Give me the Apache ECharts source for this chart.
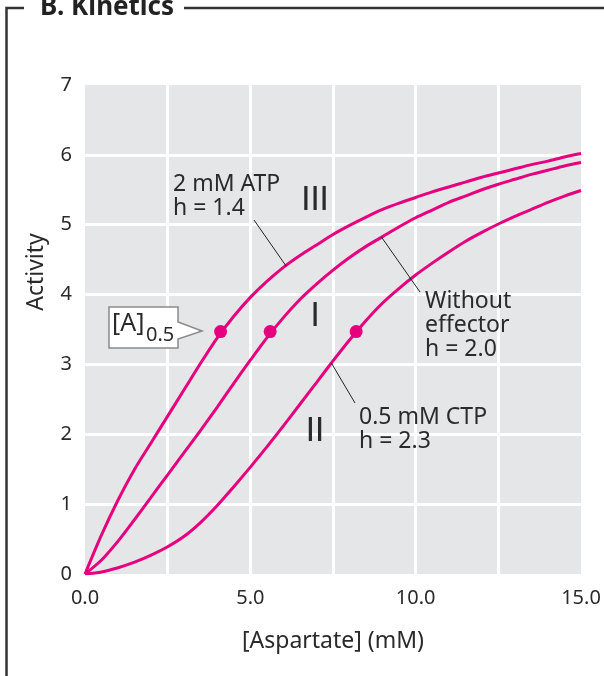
<!DOCTYPE html>
<html><head><meta charset="utf-8">
<script src="https://cdn.jsdelivr.net/npm/echarts@6/dist/echarts.min.js"></script>
<style>html,body{margin:0;padding:0;background:#fff}#c{width:604px;height:676px}</style>
</head><body><div id="c"></div>
<script>
// ---- data ----
const aspartate = [0,0.5,1,1.5,2,2.5,3,3.5,4,4.5,5,5.5,6,6.5,7,7.5,8,8.5,9,9.5,10,10.5,11,11.5,12,12.5,13,13.5,14,14.5,15];
const activityATP = [0,0.56,1.06,1.5,1.88,2.26,2.64,3.02,3.38,3.69,3.96,4.19,4.39,4.56,4.71,4.86,4.99,5.11,5.22,5.31,5.39,5.47,5.54,5.61,5.68,5.74,5.80,5.86,5.91,5.97,6.02];
const activityNone = [0,0.2,0.47,0.78,1.1,1.42,1.74,2.06,2.39,2.73,3.06,3.38,3.67,3.93,4.15,4.35,4.53,4.69,4.83,4.97,5.10,5.21,5.32,5.41,5.50,5.58,5.65,5.72,5.78,5.84,5.89];
const activityCTP = [0,0.03,0.09,0.17,0.27,0.39,0.54,0.74,0.98,1.25,1.53,1.82,2.12,2.43,2.74,3.05,3.35,3.63,3.88,4.09,4.28,4.45,4.61,4.76,4.89,5.01,5.12,5.22,5.32,5.41,5.49];
const halfSatX = [4.1, 5.6, 8.2];
const halfSatY = [3.47, 3.47, 3.47];
const curveNames = ['III', 'I', 'II'];
const curveNotes = ['2 mM ATP\nh = 1.4', 'Without\neffector\nh = 2.0', '0.5 mM CTP\nh = 2.3'];
const noteAnchorX = [6.08, 8.97, 7.45];
const noteAnchorY = [4.41, 4.82, 3.02];
const xTickLabels = ['0.0', '5.0', '10.0', '15.0'];
const xTitle = '[Aspartate] (mM)';
const yTitle = 'Activity';
const chartTitle = 'B. Kinetics';

// ---- chart ----
const MAG = '#e6007e';
const FONT = '"Noto Sans", sans-serif';
const TXT = '#2a2a2a';
const chart = echarts.init(document.getElementById('c'), null, {renderer: 'canvas'});
const pairs = ys => aspartate.map((x, i) => [x, ys[i]]);
const lineSeries = ys => ({type: 'line', data: pairs(ys), smooth: 0.3, showSymbol: false, lineStyle: {color: MAG, width: 3}, z: 3});

chart.setOption({
  animation: false,
  backgroundColor: '#fff',
  grid: {left: 85, right: 23, top: 85, bottom: 102, show: true, backgroundColor: '#e5e6e8', borderWidth: 0},
  xAxis: {
    type: 'value', min: 0, max: 15, interval: 2.5,
    axisLine: {show: false}, axisTick: {show: false},
    axisLabel: {
      color: TXT, fontSize: 20, fontFamily: FONT, margin: 14,
      formatter: v => { const s = v.toFixed(1); return xTickLabels.indexOf(s) >= 0 ? s : ''; }
    },
    splitLine: {show: true, showMinLine: false, showMaxLine: false, lineStyle: {color: '#fff', width: 3}},
    name: xTitle, nameLocation: 'middle', nameGap: 56,
    nameTextStyle: {color: TXT, fontSize: 23, fontFamily: FONT}
  },
  yAxis: {
    type: 'value', min: 0, max: 7, interval: 1,
    axisLine: {show: false}, axisTick: {show: false},
    axisLabel: {color: TXT, fontSize: 20, fontFamily: FONT, margin: 13},
    splitLine: {show: true, showMinLine: false, showMaxLine: false, lineStyle: {color: '#fff', width: 3}}
  },
  series: [
    lineSeries(activityATP),
    lineSeries(activityNone),
    lineSeries(activityCTP),
    {type: 'scatter', data: halfSatX.map((x, i) => [x, halfSatY[i]]), symbolSize: 13, itemStyle: {color: MAG, opacity: 1}, z: 5}
  ]
});

function px(x, y) { return chart.convertToPixel({gridIndex: 0}, [x, y]); }

const g = [];
// frame & title
g.push({type: 'polyline', shape: {points: [[24, 8], [6.5, 8], [6.5, 676]]}, style: {stroke: '#333', lineWidth: 2.5, fill: null}});
g.push({type: 'line', shape: {x1: 184, y1: 8, x2: 604, y2: 8}, style: {stroke: '#333', lineWidth: 2.5}});
g.push({type: 'text', x: 40, y: 21, style: {text: chartTitle, fontSize: 26, fontWeight: 'bold', fontFamily: FONT, fill: '#222', verticalAlign: 'bottom'}});
// y title
g.push({type: 'text', x: 36, y: 272, rotation: Math.PI / 2, style: {text: yTitle, fontSize: 23, fontFamily: FONT, fill: TXT, align: 'center', verticalAlign: 'middle'}});
// curve numerals
const numeralPos = [[315, 199], [315, 315], [315, 430]];
curveNames.forEach((t, i) => g.push({type: 'text', x: numeralPos[i][0], y: numeralPos[i][1], style: {text: t, fontSize: 33, fontFamily: 'Lato, "DejaVu Sans", sans-serif', fill: TXT, align: 'center', verticalAlign: 'middle'}}));
// notes and leader lines
const notePos = [[173, 172], [425, 289], [359, 405]];
const leaderEnd = [[254, 220], [420, 292], [355, 403]];
curveNotes.forEach((t, i) => {
  g.push({type: 'text', x: notePos[i][0], y: notePos[i][1], style: {text: t, fontSize: 23, lineHeight: 24, fontFamily: FONT, fill: TXT, verticalAlign: 'top'}});
  const a = px(noteAnchorX[i], noteAnchorY[i]);
  g.push({type: 'line', shape: {x1: leaderEnd[i][0], y1: leaderEnd[i][1], x2: a[0], y2: a[1]}, style: {stroke: '#222', lineWidth: 1}, z: 10});
});
// [A]0.5 callout
g.push({type: 'polygon', shape: {points: [[109, 307], [178, 307], [178, 322], [202, 331], [178, 339], [178, 348], [109, 348]]}, style: {fill: '#fff', stroke: '#8a8a8a', lineWidth: 1.5}, z: 10});
g.push({type: 'text', x: 112, y: 324, style: {text: '[A]', fontSize: 25, fontFamily: FONT, fill: TXT, verticalAlign: 'middle'}, z: 11});
g.push({type: 'text', x: 146, y: 335, style: {text: '0.5', fontSize: 20, fontFamily: FONT, fill: TXT, verticalAlign: 'middle'}, z: 11});

chart.setOption({graphic: {elements: g}});
</script></body></html>
